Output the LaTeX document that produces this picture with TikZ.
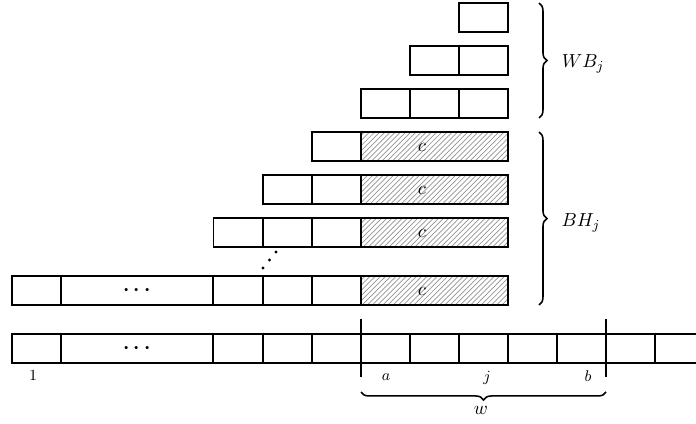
\documentclass[tikz,border=0pt]{standalone}
\usetikzlibrary{patterns,decorations.pathreplacing}
\begin{document}
\begin{tikzpicture}[x=0.58pt,y=-0.58pt,
  every node/.style={font=\fontsize{11}{13}\selectfont},
  cell/.style={draw, line width=0.6pt, minimum width=28.42pt, minimum height=16.82pt, inner sep=0pt, outer sep=0pt},
  widecell/.style={cell, minimum width=88.16pt},
  hatchcell/.style={cell, minimum width=85.26pt, pattern=north east lines, pattern color=gray!85},
  bracepath/.style={decorate, decoration={brace, amplitude=4.6pt}, line width=0.9pt},
  indexlabel/.style={font=\fontsize{9}{11}\selectfont, inner sep=0pt},
  tick/.style={line width=0.6pt}]
\useasboundingbox (0,0) rectangle (696,424);
\newcommand\celldots{{\LARGE${\cdot}\mkern1.25mu{\cdot}\mkern1.25mu{\cdot}$}}

% --- upper staircase (WB_j) ---
\node[cell] (wb3a) at (483.5,17.5) {};
\node[cell] (wb2a) at (434.5,60.5) {};
\node[cell] (wb2b) at (483.5,60.5) {};
\node[cell] (wb1a) at (385.5,103.5) {};
\node[cell] (wb1b) at (434.5,103.5) {};
\node[cell] (wb1c) at (483.5,103.5) {};

% --- lower staircase (BH_j) with hatched blocks ---
\node[cell] (bh1a) at (336.5,146.5) {};
\node[hatchcell] (bh1h) at (434.5,146.5) {};
\node (c1) at (422,147.5) {$c$};

\node[cell] (bh2a) at (287.5,189.5) {};
\node[cell] (bh2b) at (336.5,189.5) {};
\node[hatchcell] (bh2h) at (434.5,189.5) {};
\node (c2) at (422,190.5) {$c$};

\node[cell] (bh3a) at (238,232.5) {};
\node[cell] (bh3b) at (287.5,232.5) {};
\node[cell] (bh3c) at (336.5,232.5) {};
\node[hatchcell] (bh3h) at (434.5,232.5) {};
\node (c3) at (422,233.5) {$c$};

\node[cell] (bh4a) at (36.5,290.5) {};
\node[widecell] (bh4w) at (137,290.5) {\celldots};
\node[cell] (bh4b) at (238,290.5) {};
\node[cell] (bh4c) at (287.5,290.5) {};
\node[cell] (bh4d) at (336.5,290.5) {};
\node[hatchcell] (bh4h) at (434.5,290.5) {};
\node (c4) at (422,291.5) {$c$};

% diagonal dots between the staircase rows
\fill (263,268) circle (0.9pt);
\fill (269.5,260) circle (0.9pt);
\fill (276,252) circle (0.9pt);

% --- bottom array ---
\node[cell] (r1) at (36.5,348.5) {};
\node[widecell] (rw) at (137,348.5) {\celldots};
\foreach \i/\x in {2/238,3/287.5,4/336.5,5/385.5,6/434.5,7/483.5,8/532.5,9/581.5,10/630.5,11/679.5}
  \node[cell] (r\i) at (\x,348.5) {};

% window limits
\coordinate (wl1) at (361,319);
\coordinate (wl2) at (361,377);
\coordinate (wr1) at (606,319);
\coordinate (wr2) at (606,377);
\draw[tick] (wl1) -- (wl2);
\draw[tick] (wr1) -- (wr2);

% index labels
\node[indexlabel] (l1) at (33,375) {$1$};
\node[indexlabel] (la) at (386,377) {$a$};
\node[indexlabel] (lj) at (487,378) {$j$};
\node[indexlabel] (lb) at (588,376) {$b$};

% braces
\coordinate (bw1) at (606,392);
\coordinate (bw2) at (361,392);
\draw[bracepath] (bw1) -- (bw2);
\node (w) at (481,410) {$w$};

\coordinate (bt1) at (539,3);
\coordinate (bt2) at (539,118);
\draw[bracepath] (bt1) -- (bt2);
\node (wb) at (583,64) {$WB_j$};

\coordinate (bb1) at (539,132);
\coordinate (bb2) at (539,305);
\draw[bracepath] (bb1) -- (bb2);
\node (bh) at (581,223) {$BH_j$};
\end{tikzpicture}
\end{document}
